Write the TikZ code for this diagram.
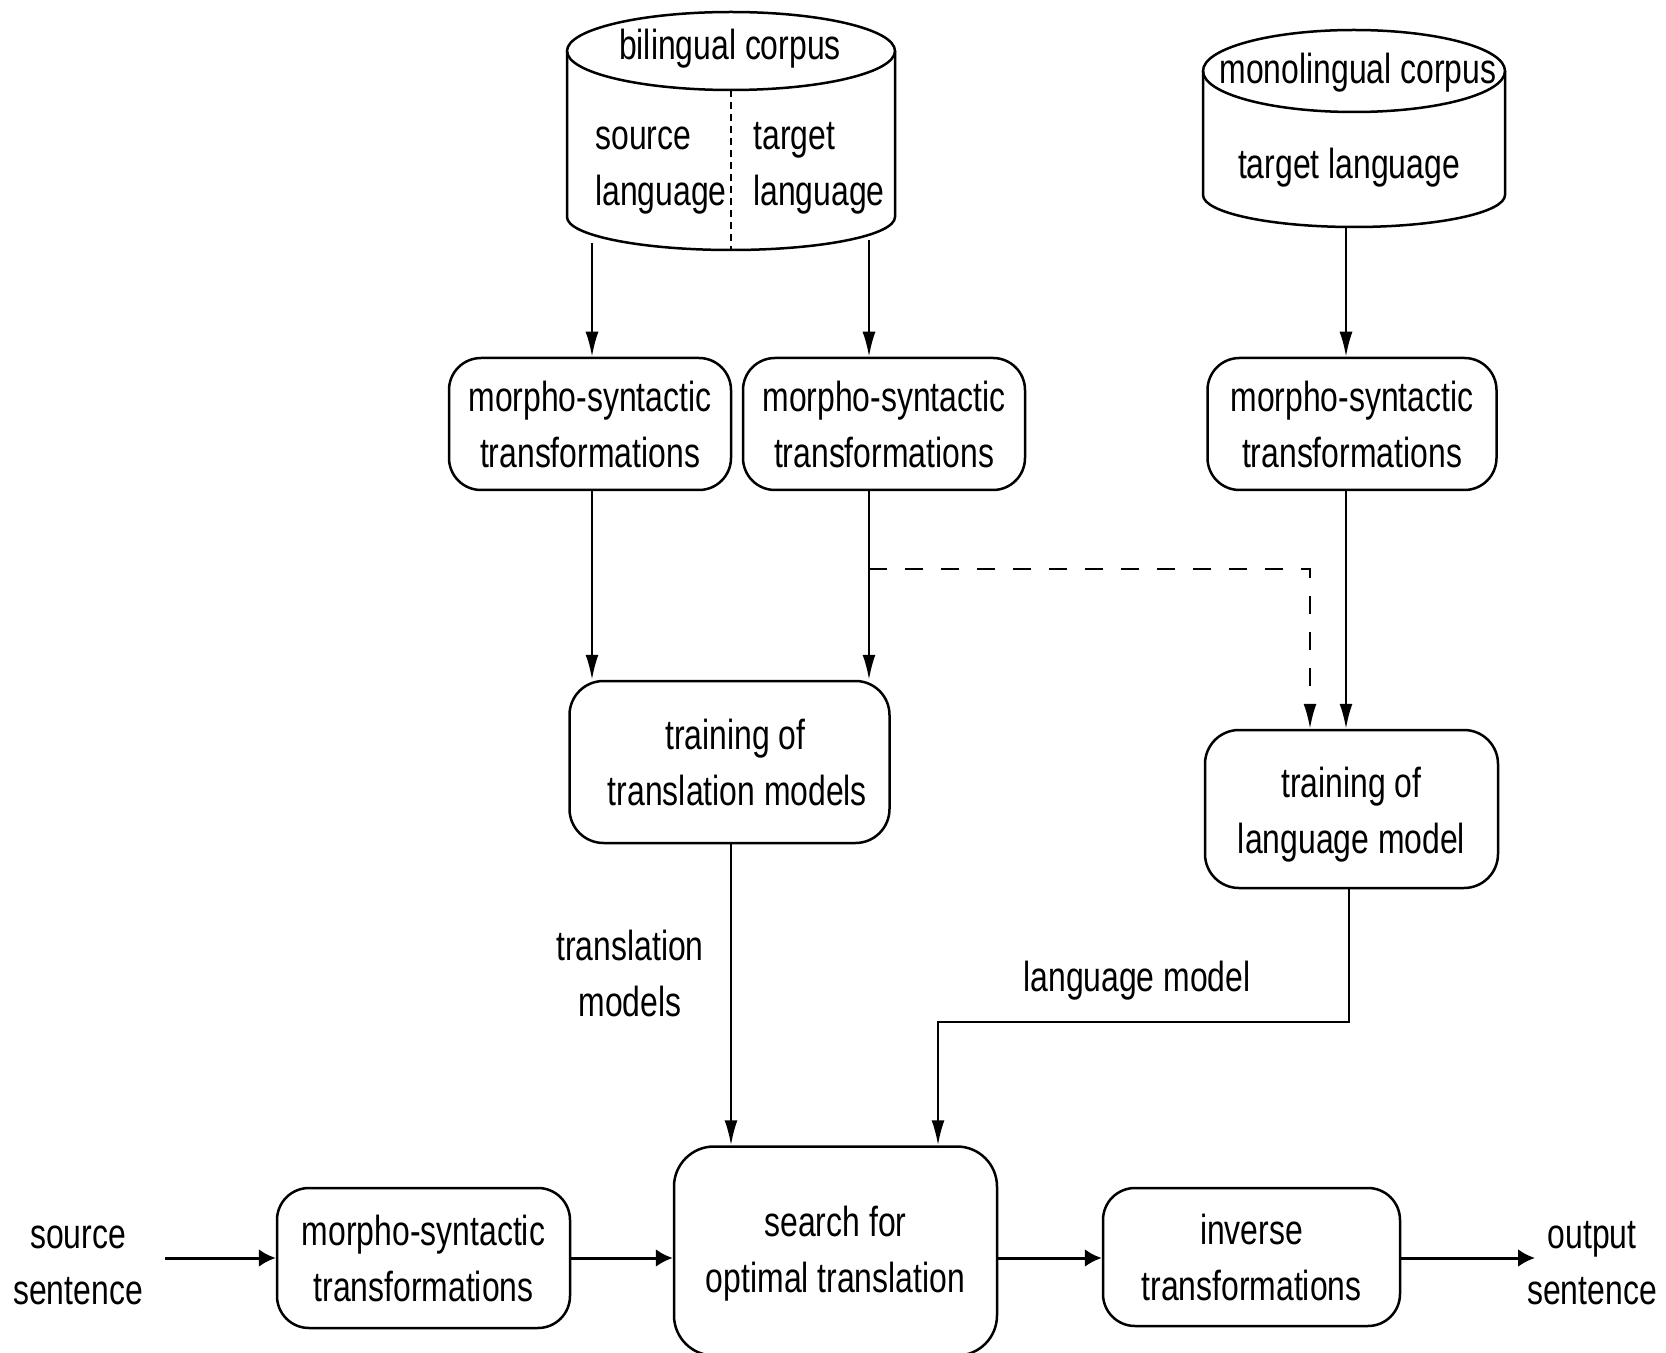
\documentclass[tikz,border=0pt]{standalone}
\usepackage{fontspec}
\setmainfont[FakeStretch=0.76]{Liberation Sans}
\usetikzlibrary{arrows.meta}
\begin{document}
\begin{tikzpicture}[x=0.5pt,y=-0.5pt,
  font=\fontsize{21}{28}\selectfont,
  box/.style={draw, line width=1.25pt, rounded corners=16pt, align=center, inner sep=0pt},
  cyl/.style={line width=1.25pt},
  txt/.style={align=center, inner sep=0pt},
  txtl/.style={align=left, inner sep=0pt, anchor=west},
  varr/.style={line width=1.1pt, -{Latex[length=12.5pt,width=6.5pt]}},
  harr/.style={line width=1.5pt, -{Latex[length=8.5pt,width=9pt]}},
  dasharr/.style={varr, dash pattern=on 9pt off 9pt}]
\useasboundingbox (0,0) rectangle (1666,1353);

% bilingual corpus cylinder
\draw[cyl] (731,51) ellipse [x radius=82pt, y radius=19.5pt];
\draw[cyl] (567,51) -- (567,217) arc[start angle=180, end angle=360, x radius=82pt, y radius=16.5pt] -- (895,51);
\draw[line width=0.8pt, dash pattern=on 3.5pt off 2.5pt] (731,90) -- (731,250);
\node[txt] (bil) at (730,49) {bilingual corpus};
\node[txtl] (srcl) at (595,171) {source\\language};
\node[txtl] (tgtl) at (753,168) {target\\language};

% monolingual corpus cylinder
\draw[cyl] (1354,71) ellipse [x radius=75.5pt, y radius=20.5pt];
\draw[cyl] (1203,71) -- (1203,195) arc[start angle=180, end angle=360, x radius=75.5pt, y radius=16pt] -- (1505,71);
\node[txt] (mono) at (1358,73) {monolingual corpus};
\node[txt] (mtgt) at (1349,168) {target language};

% boxes
\node[box, minimum width=141pt, minimum height=66pt] (m1) at (590,424) {morpho-syntactic\\transformations};
\node[box, minimum width=141pt, minimum height=66pt] (m2) at (884,424) {morpho-syntactic\\transformations};
\node[box, minimum width=144.5pt, minimum height=66pt] (m3) at (1352,424) {morpho-syntactic\\transformations};
\node[box, minimum width=160pt, minimum height=81pt, rounded corners=17pt] (t1) at (729.5,762) {\hspace*{6pt}training of\\\hspace*{8pt}translation models};
\node[box, minimum width=146.5pt, minimum height=79pt, rounded corners=17pt] (t2) at (1351.5,809) {\mbox{}\\[-7pt]training of\\language model};
\node[box, minimum width=161.5pt, minimum height=104.5pt, rounded corners=20pt] (s) at (835.5,1251) {\mbox{}\\[-9.7pt]search for\\optimal translation};
\node[box, minimum width=146.5pt, minimum height=70pt] (m4) at (423.5,1258) {morpho-syntactic\\transformations};
\node[box, minimum width=148.5pt, minimum height=69pt] (inv) at (1251.5,1257) {inverse\\transformations};

\node[txt] (src) at (78,1265) {source\\sentence};
\node[txt] (out) at (1592,1263) {output\\sentence};
\node[txt] (tml) at (630,973) {translation\\models};
\node[txt] (lml) at (1137,981) {language model};

% coordinates
\coordinate (bA) at (592,243);
\coordinate (bB) at (869,240);
\coordinate (mA) at (1346,228);
\coordinate (dA) at (869,569);
\coordinate (dB) at (1310,569);
\coordinate (lA) at (1349,1022);
\coordinate (lB) at (938,1022);
\coordinate (tA) at (731,0);
\coordinate (sA) at (165,1258);
\coordinate (oA) at (1535,1258);

% connectors
\draw[varr] (bA) -- (bA |- m1.north);
\draw[varr] (bB) -- (bB |- m2.north);
\draw[varr] (mA) -- (mA |- m3.north);
\draw[varr] (bA |- m1.south) -- (bA |- t1.north);
\draw[varr] (bB |- m2.south) -- (bB |- t1.north);
\draw[dasharr] (dA) -- (dB) -- (dB |- t2.north);
\draw[varr] (mA |- m3.south) -- (mA |- t2.north);
\draw[varr] (tA |- t1.south) -- (tA |- s.north);
\draw[varr] (lA |- t2.south) -- (lA) -- (lB) -- (lB |- s.north);
\draw[harr] (sA) -- (sA -| m4.west);
\draw[harr] (m4.east |- sA) -- (sA -| s.west);
\draw[harr] (s.east |- sA) -- (sA -| inv.west);
\draw[harr] (inv.east |- sA) -- (oA);
\end{tikzpicture}
\end{document}
